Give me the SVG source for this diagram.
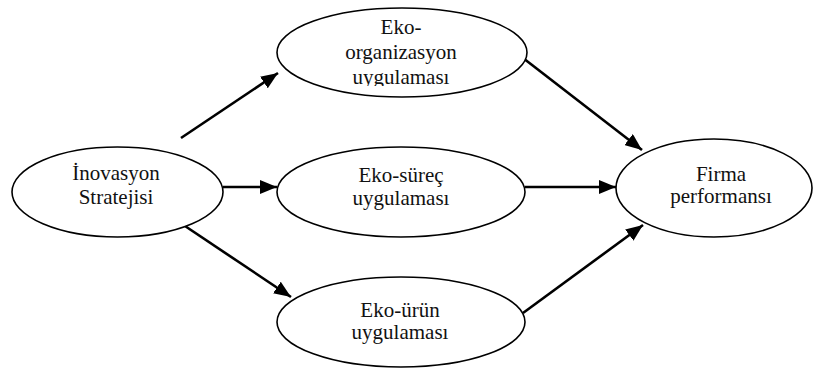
<svg xmlns="http://www.w3.org/2000/svg" width="818" height="371" viewBox="0 0 818 371">
  <style>
    .node ellipse { fill: #ffffff; stroke: #000000; stroke-width: 1.6; }
    .node text { font-family: "Liberation Serif", "Times New Roman", serif; font-size: 21px; fill: #111111; text-anchor: middle; }
    .edge { stroke: #000000; stroke-width: 2.6; fill: none; marker-end: url(#arrow); }
  </style>
  <defs>
    <marker id="arrow" markerUnits="userSpaceOnUse" markerWidth="18" markerHeight="14" refX="17" refY="7" orient="auto">
      <path d="M0,0 L17,7 L0,14 z" fill="#000000"/>
    </marker>
    <!-- text box of the top ellipse cuts off the last line's descenders -->
    <clipPath id="clip-org">
      <rect x="280" y="10" width="245" height="76"/>
    </clipPath>
  </defs>
  <rect width="818" height="371" fill="#ffffff"/>

  <g id="connectors">
    <line class="edge" x1="181" y1="138" x2="278" y2="73"/>
    <line class="edge" x1="223" y1="187" x2="277" y2="187"/>
    <line class="edge" x1="182" y1="224" x2="291" y2="297"/>
    <line class="edge" x1="523" y1="58" x2="642" y2="150"/>
    <line class="edge" x1="525" y1="187" x2="616" y2="187"/>
    <line class="edge" x1="523" y1="313" x2="643" y2="225"/>
  </g>

  <g id="node-inovasyon" class="node">
    <ellipse cx="117.5" cy="192" rx="105.5" ry="45"/>
    <text x="116" y="180">İnovasyon</text>
    <text x="116" y="204">Stratejisi</text>
  </g>

  <g id="node-eko-organizasyon" class="node">
    <ellipse cx="402" cy="52.5" rx="125" ry="44.5"/>
    <g clip-path="url(#clip-org)">
      <text x="401" y="34">Eko-</text>
      <text x="401" y="59">organizasyon</text>
      <text x="401" y="84">uygulaması</text>
    </g>
  </g>

  <g id="node-eko-surec" class="node">
    <ellipse cx="401" cy="192" rx="124" ry="45"/>
    <text x="401" y="182">Eko-süreç</text>
    <text x="401" y="205">uygulaması</text>
  </g>

  <g id="node-eko-urun" class="node">
    <ellipse cx="401" cy="322" rx="124" ry="45"/>
    <text x="400" y="317">Eko-ürün</text>
    <text x="400" y="339">uygulaması</text>
  </g>

  <g id="node-firma" class="node">
    <ellipse cx="714" cy="188" rx="98" ry="49"/>
    <text x="721" y="181">Firma</text>
    <text x="721" y="203">performansı</text>
  </g>
</svg>
